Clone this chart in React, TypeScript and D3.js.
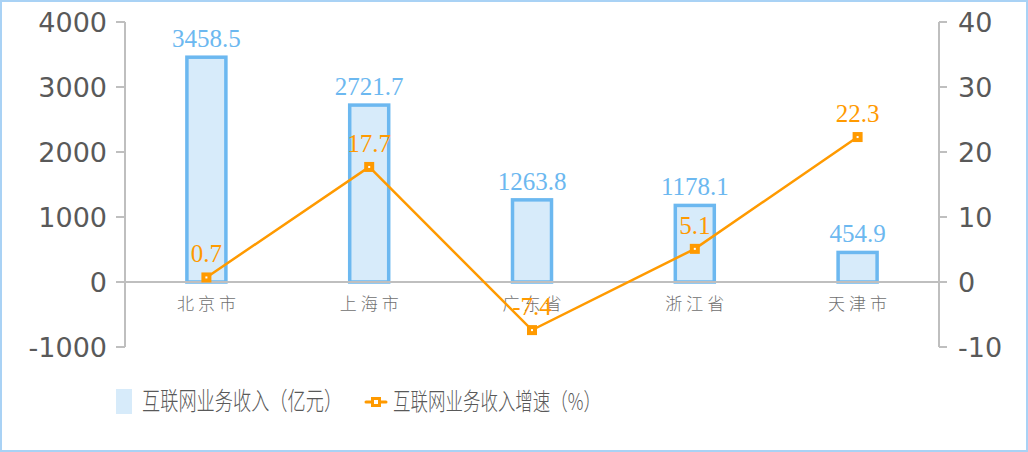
import React from "react";
import * as d3 from "d3";

const categories = ["北京市", "上海市", "广东省", "浙江省", "天津市"];
const revenue = [3458.5, 2721.7, 1263.8, 1178.1, 454.9];
const growth = [0.7, 17.7, -7.4, 5.1, 22.3];
const leftTicks = [-1000, 0, 1000, 2000, 3000, 4000];
const rightTicks = [-10, 0, 10, 20, 30, 40];
const legendLabels = ["互联网业务收入（亿元）", "互联网业务收入增速（%）"];

const W = 1028;
const H = 452;
const BAR_BLUE = "#6cb8f0";
const BAR_FILL = "#d7ebfa";
const ORANGE = "#ff9a00";
const AXIS = "#bfbfbf";
const TEXT = "#595959";

export default function App() {
  const x = d3.scaleBand<string>().domain(categories).range([125, 939]);
  const yL = d3.scaleLinear().domain([-1000, 4000]).range([347, 22]);
  const yR = d3.scaleLinear().domain([-10, 40]).range([347, 22]);
  const cx = (c: string) => (x(c) as number) + x.bandwidth() / 2;
  const barW = 39;
  const line = d3
    .line<number>()
    .x((_, i) => cx(categories[i]))
    .y((d) => yR(d));

  return (
    <svg
      width={W}
      height={H}
      style={{ position: "absolute", left: 0, top: 0, background: "#fff" }}
    >
      <rect x={1} y={1} width={W - 2} height={H - 2} fill="#fff" stroke="#a9d2f5" strokeWidth={2} />
      {/* left axis */}
      <line x1={125} x2={125} y1={yL(4000)} y2={yL(-1000)} stroke={AXIS} strokeWidth={2} />
      {leftTicks.map((t) => (
        <g key={"l" + t}>
          <line x1={116} x2={125} y1={yL(t)} y2={yL(t)} stroke={AXIS} strokeWidth={2} />
          <text
            x={107}
            y={yL(t)}
            dy="0.36em"
            textAnchor="end"
            fontFamily="'DejaVu Sans', Verdana, sans-serif"
            fontSize={27}
            fill={TEXT}
          >
            {t}
          </text>
        </g>
      ))}
      {/* right axis */}
      <line x1={939} x2={939} y1={yR(40)} y2={yR(-10)} stroke={AXIS} strokeWidth={2} />
      {rightTicks.map((t) => (
        <g key={"r" + t}>
          <line x1={939} x2={947} y1={yR(t)} y2={yR(t)} stroke={AXIS} strokeWidth={2} />
          <text
            x={958}
            y={yR(t)}
            dy="0.36em"
            textAnchor="start"
            fontFamily="'DejaVu Sans', Verdana, sans-serif"
            fontSize={27}
            fill={TEXT}
          >
            {t}
          </text>
        </g>
      ))}
      {/* bars */}
      {revenue.map((v, i) => {
        const c = categories[i];
        return (
          <g key={"b" + i}>
            <rect
              x={cx(c) - barW / 2}
              y={yL(v)}
              width={barW}
              height={yL(0) - yL(v)}
              fill={BAR_FILL}
              stroke={BAR_BLUE}
              strokeWidth={3.5}
            />
            <text
              x={cx(c)}
              y={yL(v) - 10}
              textAnchor="middle"
              fontFamily="'Liberation Serif', 'Times New Roman', serif"
              fontSize={25}
              fill={BAR_BLUE}
            >
              {v.toFixed(1)}
            </text>
          </g>
        );
      })}
      {/* zero line */}
      <line x1={125} x2={939} y1={yL(0)} y2={yL(0)} stroke={AXIS} strokeWidth={2} />
      {/* category labels */}
      {categories.map((c) => (
        <text
          key={"c" + c}
          x={cx(c) + 2}
          y={310}
          textAnchor="middle"
          fontFamily="'Noto Sans CJK SC', sans-serif"
          fontWeight={300}
          fontSize={17}
          letterSpacing={4}
          fill="#707070"
        >
          {c}
        </text>
      ))}
      {/* growth line */}
      <path d={line(growth) || ""} fill="none" stroke={ORANGE} strokeWidth={2.5} />
      {growth.map((v, i) => {
        const c = categories[i];
        return (
          <g key={"p" + i}>
            <rect x={cx(c) - 5} y={yR(v) - 5} width={10} height={10} fill={ORANGE} />
            <rect x={cx(c) - 1} y={yR(v) - 1} width={2} height={2} fill="#fff" />
            <text
              x={cx(c)}
              y={yR(v) - 15}
              textAnchor="middle"
              fontFamily="'Liberation Serif', 'Times New Roman', serif"
              fontSize={25}
              fill={ORANGE}
            >
              {v.toFixed(1)}
            </text>
          </g>
        );
      })}
      {/* legend */}
      <rect x={116} y={389} width={16} height={25} fill={BAR_FILL} />
      <text
        transform="translate(142,410) scale(1,1.35)"
        fontFamily="'Noto Sans CJK SC', sans-serif"
        fontWeight={300}
        fontSize={18.2}
        fill={TEXT}
      >
        {legendLabels[0]}
      </text>
      <line x1={366} x2={386} y1={402} y2={402} stroke={ORANGE} strokeWidth={3} strokeLinecap="round" />
      <rect x={371} y={397} width={10} height={10} fill={ORANGE} />
      <rect x={374} y={400} width={4} height={4} fill="#fff" />
      <text
        transform="translate(393,410) scale(1,1.35)"
        fontFamily="'Noto Sans CJK SC', sans-serif"
        fontWeight={300}
        fontSize={17.5}
        fill={TEXT}
      >
        {legendLabels[1]}
      </text>
    </svg>
  );
}
